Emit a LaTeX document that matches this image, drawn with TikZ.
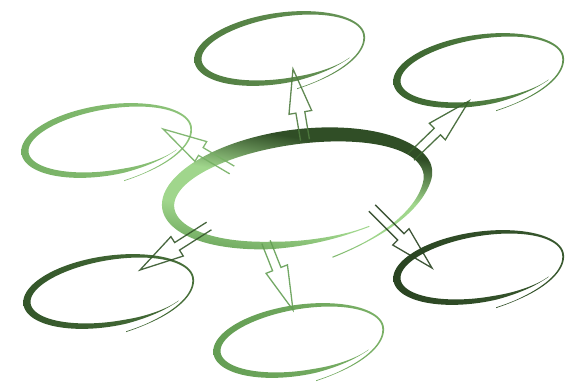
\documentclass[tikz,border=0pt]{standalone}
\usetikzlibrary{calc}

\definecolor{hubdark}{RGB}{48,78,38}
\definecolor{hublight}{RGB}{160,214,140}
\definecolor{hubbottom}{RGB}{104,162,88}
\definecolor{greenA}{RGB}{80,124,64}
\definecolor{greenAr}{RGB}{104,150,88}
\definecolor{greenB}{RGB}{58,98,46}
\definecolor{greenBr}{RGB}{96,146,80}
\definecolor{greenC}{RGB}{118,176,100}
\definecolor{greenCr}{RGB}{142,196,122}
\definecolor{greenD}{RGB}{52,86,42}
\definecolor{greenDr}{RGB}{72,112,58}
\definecolor{greenE}{RGB}{100,158,84}
\definecolor{greenEr}{RGB}{122,176,102}
\definecolor{greenF}{RGB}{42,68,34}
\definecolor{greenFr}{RGB}{56,88,46}

\pgfdeclareverticalshading{hubshade}{100bp}{color(0bp)=(hubbottom); color(25bp)=(hubbottom);
  color(40bp)=(hublight); color(53bp)=(hublight); color(68bp)=(hubdark); color(100bp)=(hubdark)}

% width and radius of a brush ring along its angle
\pgfmathdeclarefunction{ringw}{1}{%
  \begingroup
  \pgfmathparse{max(0.15,min(1,((#1)-(\rgstart))/\rgin,((\rgend)-(#1))/\rgout))*(\rgbase+\rgextra*(1-cos((#1)-(\rgthin)))/2)}%
  \pgfmathsmuggle\pgfmathresult
  \endgroup}
\pgfmathdeclarefunction{ringr}{1}{%
  \begingroup
  \pgfmathparse{1+\rgflare*(max(0,((\rgjoin)-(#1))/((\rgjoin)-(\rgstart))))^2}%
  \pgfmathsmuggle\pgfmathresult
  \endgroup}

\newcommand{\outerringshape}{%
  \def\rgstart{-85}\def\rgjoin{0}\def\rgend{322}\def\rgflare{0.3}%
  \def\rgin{80}\def\rgout{45}\def\rgbase{1.8}\def\rgextra{5.5}\def\rgthin{0}}
\newcommand{\hubringshape}{%
  \def\rgstart{-82}\def\rgjoin{-10}\def\rgend{300}\def\rgflare{0.36}%
  \def\rgin{90}\def\rgout{45}\def\rgbase{7}\def\rgextra{8}\def\rgthin{-75}}

% #1 centre, #2 rx, #3 ry, #4 rotation, #5 shading
\newcommand{\brushring}[5]{%
  \shade[#5, shift={(#1)}, rotate=#4]
    plot[domain=\rgstart:\rgend, samples=140, smooth, variable=\t]
      ({(#2*ringr(\t)+0.5*ringw(\t))*cos(\t)}, {(#3*ringr(\t)+0.5*ringw(\t))*sin(\t)})
    -- plot[domain=\rgend:\rgstart, samples=140, smooth, variable=\t]
      ({(#2*ringr(\t)-0.5*ringw(\t))*cos(\t)}, {(#3*ringr(\t)-0.5*ringw(\t))*sin(\t)})
    -- cycle;}

\begin{document}
\begin{tikzpicture}[x=1pt, y=1pt,
  hollow/.style={line width=1.3pt, line join=miter, draw opacity=0.9,
    to path={
      ($(\tikztostart)!4.5pt!90:(\tikztotarget)$)
      -- ($(\tikztotarget)!44pt!(\tikztostart)!4.5pt!-90:(\tikztostart)$)
      -- ($(\tikztotarget)!44pt!(\tikztostart)!11.5pt!-90:(\tikztostart)$)
      -- (\tikztotarget)
      -- ($(\tikztotarget)!44pt!(\tikztostart)!11.5pt!90:(\tikztostart)$)
      -- ($(\tikztotarget)!44pt!(\tikztostart)!4.5pt!90:(\tikztostart)$)
      -- ($(\tikztostart)!4.5pt!-90:(\tikztotarget)$)}}
]
\useasboundingbox (0,0) rectangle (582,384);

% ring centres
\coordinate (hub)       at (298,194);
\coordinate (north)     at (281,336);
\coordinate (northeast) at (480,314);
\coordinate (west)      at (108,244);
\coordinate (southwest) at (110,93);
\coordinate (south)     at (300,44);
\coordinate (southeast) at (480,117);

% arrow feet on the hub and arrow tips
\coordinate (foot1) at (305,244); \coordinate (tip1) at (293,315);
\coordinate (foot2) at (411,227); \coordinate (tip2) at (469,283);
\coordinate (foot3) at (232,214); \coordinate (tip3) at (163,255);
\coordinate (foot4) at (209,158); \coordinate (tip4) at (140,114);
\coordinate (foot5) at (266,142); \coordinate (tip5) at (293,74);
\coordinate (foot6) at (372,176); \coordinate (tip6) at (432,116);

\outerringshape
\brushring{north}{84}{33}{9}{left color=greenA, right color=greenAr}
\brushring{northeast}{84}{33}{9}{left color=greenB, right color=greenBr}
\brushring{west}{84}{33}{9}{left color=greenC, right color=greenCr}
\brushring{southwest}{84}{33}{9}{left color=greenD, right color=greenDr}
\brushring{south}{84}{33}{9}{left color=greenE, right color=greenEr}
\brushring{southeast}{84}{33}{9}{left color=greenF, right color=greenFr}

\hubringshape
\brushring{hub}{131}{53}{8}{shading=hubshade, shading angle=-10}

\draw[hollow, greenA] (foot1) to (tip1);
\draw[hollow, greenB] (foot2) to (tip2);
\draw[hollow, greenC] (foot3) to (tip3);
\draw[hollow, greenD] (foot4) to (tip4);
\draw[hollow, greenE] (foot5) to (tip5);
\draw[hollow, greenF] (foot6) to (tip6);
\end{tikzpicture}
\end{document}
